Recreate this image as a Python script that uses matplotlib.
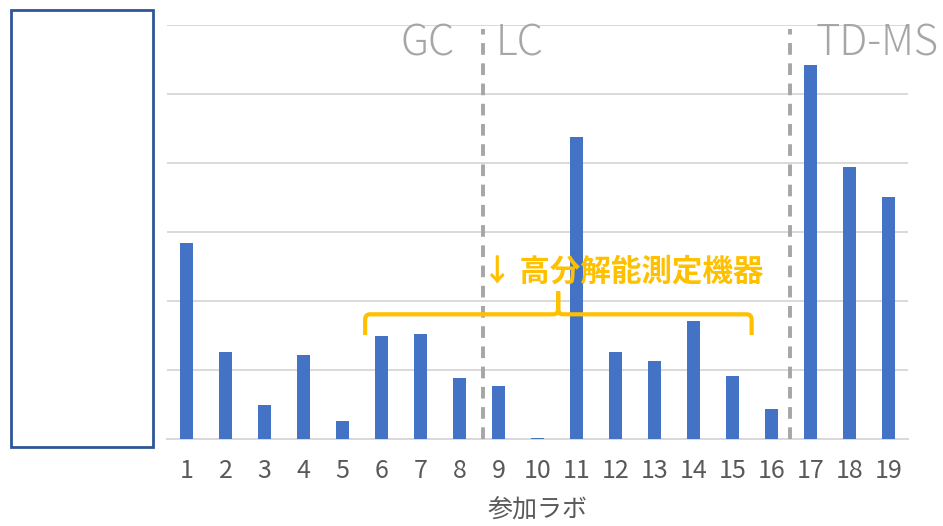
import matplotlib
matplotlib.use("Agg")
import matplotlib.pyplot as plt
from matplotlib.patches import Rectangle, PathPatch
from matplotlib.path import Path

plt.rcParams['font.family'] = ['Noto Sans CJK JP', 'DejaVu Sans']

labs = [str(i) for i in range(1, 20)]
vals = [2.84, 1.26, 0.49, 1.21, 0.26, 1.48, 1.52, 0.88, 0.76, 0.01,
        4.37, 1.25, 1.13, 1.70, 0.90, 0.43, 5.41, 3.93, 3.50]
groups = ["GC", "LC", "TD-MS"]
xlabel = "参加ラボ"
note = "↓ 高分解能測定機器"

W, H = 943, 526
fig = plt.figure(figsize=(W / 100, H / 100), dpi=100)
ax = fig.add_axes([167 / W, 1 - 438.5 / H, (908 - 167) / W, (438.5 - 24.5) / H])

x = list(range(1, 20))
ax.bar(x, vals, width=0.31, color="#4472c4", zorder=3)
ax.set_xlim(0.5, 19.5)
ax.set_ylim(0, 6)
ax.set_yticks(range(0, 7))
ax.yaxis.grid(True, color="#d9d9d9", lw=1.4, zorder=0)
ax.tick_params(axis="y", left=False, labelleft=False)
ax.set_xticks(x)
ax.set_xticklabels(labs, fontsize=18, color="#595959")
ax.tick_params(axis="x", length=0, pad=14)
for s in ["top", "right", "left"]:
    ax.spines[s].set_visible(False)
ax.spines["bottom"].set_color("#d9d9d9")
ax.spines["bottom"].set_linewidth(1.4)
ax.set_xlabel(xlabel, fontsize=18, color="#595959", labelpad=10)

# method separators
for xs in (8.6, 16.47):
    ax.plot([xs, xs], [0, 5.94], color="#a6a6a6", lw=2.8, ls=(0, (3, 2.2)),
            zorder=4, clip_on=False)
ax.text(7.87, 5.72, groups[0], fontsize=30, color="#a6a6a6", ha="right",
        va="center", fontweight="light")
ax.text(8.93, 5.72, groups[1], fontsize=30, color="#a6a6a6", ha="left",
        va="center", fontweight="light")
ax.text(17.13, 5.72, groups[2], fontsize=30, color="#a6a6a6", ha="left",
        va="center", fontweight="light", clip_on=False)

# brace
yb, ye, yp = 1.80, 1.50, 2.13
xl, xr, xm = 5.58, 15.49, 10.53
c = 0.12
verts = [(xl, ye), (xl, yb - 0.08), (xl, yb), (xl + c, yb),
         (xm - c, yb), (xm, yb), (xm, yb + 0.08), (xm, yp),
         (xm, yb + 0.08), (xm, yb), (xm + c, yb),
         (xr - c, yb), (xr, yb), (xr, yb - 0.08), (xr, ye)]
codes = [Path.MOVETO, Path.LINETO, Path.CURVE3, Path.CURVE3,
         Path.LINETO, Path.CURVE3, Path.CURVE3, Path.LINETO,
         Path.LINETO, Path.CURVE3, Path.CURVE3,
         Path.LINETO, Path.CURVE3, Path.CURVE3, Path.LINETO]
ax.add_patch(PathPatch(Path(verts, codes), fill=False, ec="#ffc000", lw=3,
                       zorder=5))
ax.text(8.58, 2.42, note, fontsize=22, color="#ffc000", fontweight="bold",
        ha="left", va="center", zorder=6)

# empty box on the left
fig.patches.append(Rectangle((11 / W, 1 - 446.5 / H), 142 / W, 436.5 / H,
                             transform=fig.transFigure, fill=True, fc="white",
                             ec="#2f5597", lw=2))

fig.savefig("out.png", dpi=100)
